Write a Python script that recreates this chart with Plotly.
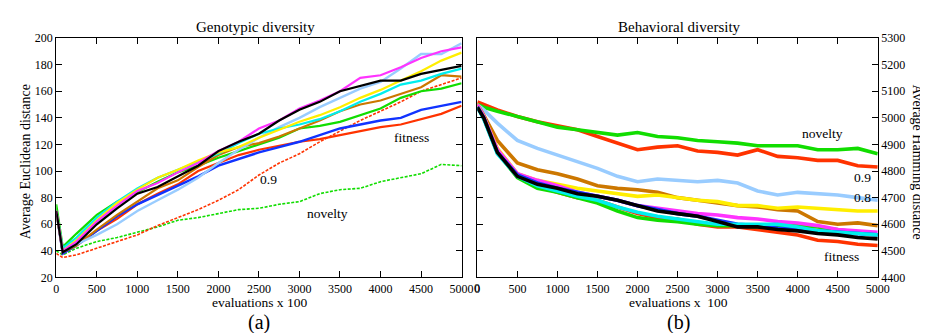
import plotly.graph_objects as go

W, H = 928, 333

# ---------------- data ----------------
x_eval = [0, 80, 250, 500, 750, 1000, 1250, 1500, 1750, 2000, 2250, 2500,
          2750, 3000, 3250, 3500, 3750, 4000, 4250, 4500, 4750, 5000]

# Panel (a): Genotypic diversity (Average Euclidean distance)
geno_lightblue = [70, 40, 45, 52, 60, 70, 78, 86, 95, 106, 116, 125, 133, 140, 148, 155, 162, 167, 177, 188, 188, 196]
geno_magenta = [70, 40, 47, 62, 74, 85, 91, 99, 106, 115, 122, 132, 138, 147, 153, 160, 170, 172, 178, 185, 190, 193]
geno_yellow = [70, 40, 48, 63, 76, 86, 95, 101, 108, 114, 118, 125, 131, 137, 142, 148, 155, 161, 168, 175, 183, 189]
geno_cyan = [70, 42, 50, 65, 77, 87, 95, 101, 107, 113, 121, 128, 132, 135, 139, 145, 152, 158, 165, 168, 173, 177]
geno_brown = [70, 39, 44, 56, 67, 77, 87, 93, 103, 112, 118, 121, 126, 132, 138, 145, 150, 153, 158, 163, 172, 171]
geno_green = [75, 43, 53, 67, 77, 84, 92, 99, 104, 110, 115, 120, 125, 132, 134, 137, 142, 147, 155, 160, 162, 166]
geno_blue = [70, 38, 44, 55, 66, 75, 82, 89, 96, 104, 109, 114, 118, 122, 127, 132, 135, 138, 140, 146, 149, 152]
geno_red = [70, 38, 45, 55, 64, 75, 83, 90, 100, 106, 112, 116, 119, 122, 124, 127, 130, 133, 135, 139, 143, 149]
geno_black = [70, 39, 45, 60, 72, 83, 88, 96, 104, 115, 122, 128, 138, 146, 152, 160, 164, 168, 168, 173, 176, 179]
geno_red09 = [38, 35, 37, 42, 47, 52, 59, 65, 71, 78, 86, 97, 106, 113, 122, 130, 138, 145, 152, 160, 165, 170]
geno_novelty = [40, 37, 42, 47, 50, 54, 58, 63, 65, 68, 71, 72, 75, 77, 83, 86, 87, 92, 95, 98, 105, 104]

# Panel (b): Behavioral diversity (Average Hamming distance)
beh_novelty = [5050, 5040, 5025, 5005, 4985, 4965, 4955, 4945, 4935, 4945, 4930, 4925, 4915, 4910, 4905, 4895, 4895, 4895, 4880, 4880, 4885, 4865]
beh_red09 = [5060, 5050, 5030, 5005, 4985, 4970, 4955, 4930, 4905, 4880, 4890, 4895, 4875, 4870, 4860, 4880, 4855, 4850, 4840, 4840, 4820, 4815]
beh_lightblue = [5050, 5030, 4980, 4915, 4885, 4860, 4835, 4810, 4780, 4760, 4770, 4765, 4760, 4765, 4755, 4725, 4710, 4720, 4715, 4710, 4700, 4690]
beh_brown = [5050, 5010, 4915, 4830, 4805, 4790, 4770, 4745, 4735, 4730, 4720, 4700, 4690, 4680, 4670, 4665, 4655, 4650, 4610, 4600, 4605, 4595]
beh_yellow = [5050, 5005, 4885, 4790, 4765, 4750, 4735, 4725, 4715, 4705, 4710, 4700, 4690, 4685, 4670, 4670, 4660, 4665, 4660, 4655, 4650, 4650]
beh_magenta = [5050, 5005, 4880, 4790, 4765, 4745, 4720, 4705, 4690, 4670, 4660, 4650, 4640, 4635, 4625, 4620, 4610, 4605, 4595, 4580, 4575, 4570]
beh_green = [5040, 5000, 4870, 4775, 4735, 4720, 4700, 4680, 4650, 4625, 4615, 4610, 4600, 4595, 4595, 4590, 4590, 4595, 4590, 4580, 4570, 4560]
beh_red = [5040, 5000, 4870, 4780, 4745, 4720, 4700, 4690, 4665, 4640, 4625, 4620, 4600, 4590, 4590, 4580, 4570, 4560, 4540, 4535, 4525, 4520]
beh_cyan = [5040, 4995, 4865, 4780, 4745, 4725, 4705, 4690, 4665, 4645, 4630, 4620, 4610, 4600, 4600, 4600, 4600, 4590, 4575, 4570, 4565, 4560]
beh_blue = [5040, 5000, 4870, 4785, 4755, 4735, 4720, 4705, 4690, 4670, 4655, 4640, 4630, 4615, 4600, 4595, 4585, 4580, 4575, 4570, 4565, 4560]
beh_black = [5040, 5000, 4870, 4780, 4750, 4735, 4715, 4705, 4690, 4670, 4650, 4640, 4630, 4610, 4590, 4590, 4580, 4575, 4565, 4560, 4550, 4545]

x_ticks = [0, 500, 1000, 1500, 2000, 2500, 3000, 3500, 4000, 4500, 5000]
geno_ticks = [20, 40, 60, 80, 100, 120, 140, 160, 180, 200]
beh_ticks = [4400, 4500, 4600, 4700, 4800, 4900, 5000, 5100, 5200, 5300]

# ---------------- styles ----------------
C = dict(red="#ff3300", green="#11dd00", blue="#1133ff", magenta="#ff33ff",
         cyan="#00eeee", yellow="#ffee00", brown="#cc7700", lightblue="#99ccff",
         black="#000000")

FONT = "Liberation Serif, Times New Roman, serif"

fig = go.Figure()

geno_series = [
    (geno_novelty, C["green"], "3px,1.5px", 1.6),
    (geno_red09, C["red"], "3px,1.5px", 1.6),
    (geno_red, C["red"], "solid", 2.2),
    (geno_blue, C["blue"], "solid", 2.4),
    (geno_green, C["green"], "solid", 2.2),
    (geno_brown, C["brown"], "solid", 2.2),
    (geno_lightblue, C["lightblue"], "solid", 2.4),
    (geno_cyan, C["cyan"], "solid", 2.2),
    (geno_yellow, C["yellow"], "solid", 2.2),
    (geno_magenta, C["magenta"], "solid", 2.2),
    (geno_black, C["black"], "solid", 2.2),
]
for ys, col, dash, w in geno_series:
    fig.add_trace(go.Scatter(x=x_eval, y=ys, mode="lines", xaxis="x", yaxis="y",
                             line=dict(color=col, width=w, dash=dash),
                             showlegend=False, hoverinfo="skip"))

beh_series = [
    (beh_red09, C["red"]),
    (beh_novelty, C["green"]),
    (beh_lightblue, C["lightblue"]),
    (beh_brown, C["brown"]),
    (beh_yellow, C["yellow"]),
    (beh_red, C["red"]),
    (beh_green, C["green"]),
    (beh_magenta, C["magenta"]),
    (beh_blue, C["blue"]),
    (beh_cyan, C["cyan"]),
    (beh_black, C["black"]),
]
for ys, col in beh_series:
    fig.add_trace(go.Scatter(x=x_eval, y=ys, mode="lines", xaxis="x2", yaxis="y2",
                             line=dict(color=col, width=3.6),
                             showlegend=False, hoverinfo="skip"))

# geometry (pixels)
aL, aR, bL, bR, T, B = 46, 458, 474, 881, 24, 274
px = lambda v: v / W
py = lambda v: 1 - v / H

axis_common = dict(showline=True, linecolor="black", linewidth=1, mirror="allticks",
                   ticks="inside", ticklen=6, tickwidth=1, tickcolor="black",
                   showgrid=False, zeroline=False, ticklabeloverflow="allow",
                   tickfont=dict(family=FONT, size=12, color="black"))

fig.update_layout(
    width=W, height=H, margin=dict(l=0, r=0, t=0, b=0),
    paper_bgcolor="white", plot_bgcolor="white",
    xaxis=dict(domain=[px(aL), px(aR)], range=[0, 5000], tickvals=x_ticks,
               anchor="y", **axis_common),
    yaxis=dict(domain=[py(B), py(T)], range=[20, 200], tickvals=geno_ticks,
               anchor="x", **axis_common),
    xaxis2=dict(domain=[px(bL), px(bR)], range=[0, 5000], tickvals=x_ticks,
                anchor="y2", **axis_common),
    yaxis2=dict(domain=[py(B), py(T)], range=[4400, 5300], tickvals=beh_ticks,
                anchor="x2", side="right", **axis_common),
)

def ann(text, x, y, size, angle=0, xref="paper", yref="paper"):
    fig.add_annotation(text=text, x=x, y=y, xref=xref, yref=yref, showarrow=False,
                       textangle=angle, xanchor="center", yanchor="middle",
                       font=dict(family=FONT, size=size, color="black"))

ann("Genotypic diversity", px(249), py(13), 15)
ann("Behavioral diversity", px(679), py(13), 15)
ann("evaluations x 100", px(253), py(300), 13.5)
ann("evaluations x  100", px(678), py(300), 13.5)
ann("(a)", px(252), py(321), 20)
ann("(b)", px(678), py(321), 20)
ann("Average Euclidean distance", px(15), py(153), 14, angle=-90)
ann("Average Hamming distance", px(921), py(153), 14, angle=90)
# first tick label of panel (b)'s x axis (hidden by plotly next to panel (a)'s "5000")
fig.add_annotation(text=str(x_ticks[0]), x=x_ticks[0], y=0, xref="x2", yref="paper",
                   yshift=py(287) * H, showarrow=False, xanchor="center", yanchor="middle",
                   font=dict(family=FONT, size=12, color="black"))

# in-plot labels (data coordinates)
def dlabel(text, x, y, xa, ya):
    fig.add_annotation(text=text, x=x, y=y, xref=xa, yref=ya, showarrow=False,
                       xanchor="center", yanchor="middle",
                       font=dict(family=FONT, size=13.5, color="black"))

dlabel("fitness", 4380, 125.5, "x", "y")
dlabel("0.9", 2620, 93.5, "x", "y")
dlabel("novelty", 3340, 68, "x", "y")
dlabel("novelty", 4310, 4940, "x2", "y2")
dlabel("0.9", 4815, 4774, "x2", "y2")
dlabel("0.8", 4815, 4700, "x2", "y2")
dlabel("fitness", 4545, 4480, "x2", "y2")

fig.write_html("out.html")
